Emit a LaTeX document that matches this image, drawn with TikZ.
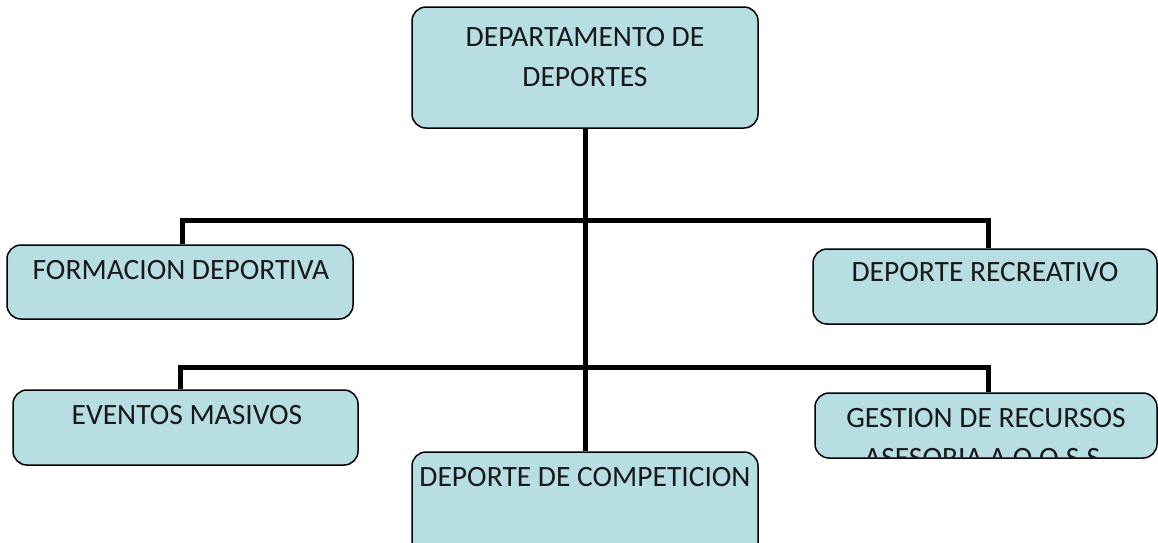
\documentclass[tikz,border=0pt]{standalone}
\usepackage{fontspec}
\setmainfont{Carlito}
\definecolor{boxfill}{RGB}{183,222,227}
\tikzset{
  x=1pt, y=1pt,
  orgbox/.style={draw=black, line width=1.5pt, fill=boxfill, rounded corners=14pt, inner sep=0pt},
  lbl/.style={font=\fontsize{29.5}{40}\selectfont, align=center, inner sep=0pt, text=black!90},
  conn/.style={line width=5pt, black},
}
\begin{document}
\begin{tikzpicture}
\useasboundingbox (0,0) rectangle (1158,-542);
% boxes
\node[orgbox, minimum width=346, minimum height=121] (top) at (585,-67.5) {};
\node[orgbox, minimum width=346, minimum height=74] (form) at (180,-282) {};
\node[orgbox, minimum width=344, minimum height=75] (recr) at (985,-286.5) {};
\node[orgbox, minimum width=345, minimum height=75] (even) at (185.5,-427.5) {};
\node[orgbox, minimum width=342, minimum height=65] (gest) at (986,-425.5) {};
\node[orgbox, minimum width=346, minimum height=110] (comp) at (585,-507) {};
% connectors
\coordinate (h1) at (585,-220);
\coordinate (h2) at (585,-367);
\draw[conn] (top.south) -- (comp.north);
\draw[conn] ([xshift=2pt]form.north) |- (h1) -| ([xshift=3pt]recr.north);
\draw[conn] ([xshift=-5pt]even.north) |- (h2) -| ([xshift=2pt]gest.north);
% labels
\node[lbl] (ttop) at (585,-57) {DEPARTAMENTO DE\\DEPORTES};
\node[lbl] (tform) at (181,-270) {FORMACION DEPORTIVA};
\node[lbl] (trecr) at (985,-272) {DEPORTE RECREATIVO};
\node[lbl] (teven) at (187,-415) {EVENTOS MASIVOS};
\node[lbl] (tcomp) at (585,-477) {DEPORTE DE COMPETICION};
\begin{scope}
  \clip[rounded corners=14pt] (gest.south west) rectangle (gest.north east);
  \node[lbl] (tgest) at (986,-438) {GESTION DE RECURSOS\\ASESORIA A O.O.S.S.};
\end{scope}
\end{tikzpicture}
\end{document}
